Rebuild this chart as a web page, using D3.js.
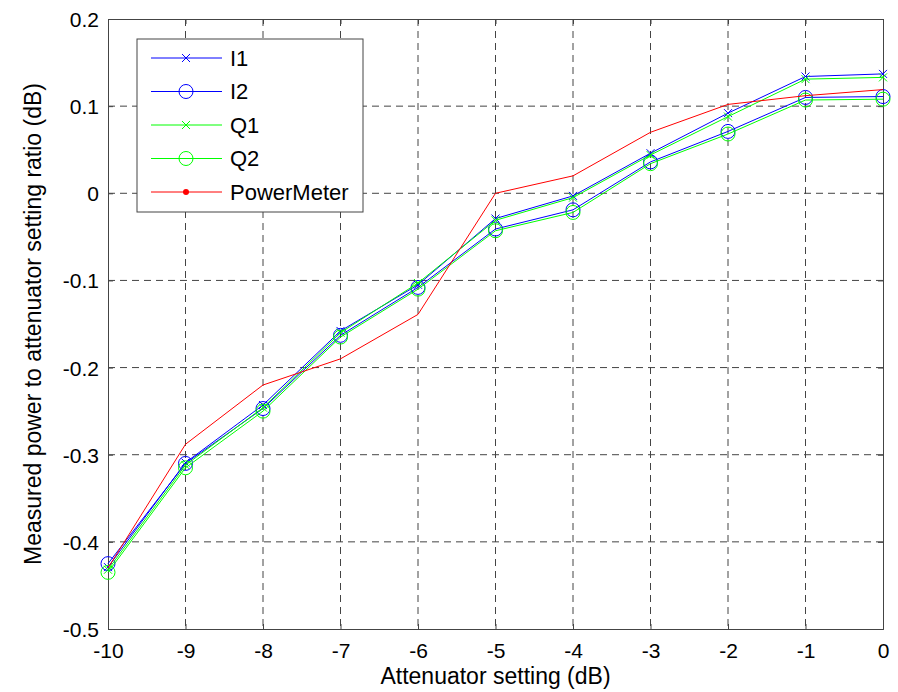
<!DOCTYPE html>
<html>
<head>
<meta charset="utf-8">
<script src="https://cdn.jsdelivr.net/npm/d3@7"></script>
<style>
  body { margin: 0; background: #fff; }
  text { font-family: "Liberation Sans", Arial, sans-serif; fill: #000; }
</style>
</head>
<body>
<script>
// attenuator settings and measured ratios (dB)
var settings = [-10, -9, -8, -7, -6, -5, -4, -3, -2, -1, 0];
var i1 = [-0.429, -0.309, -0.243, -0.158, -0.105, -0.029, -0.003, 0.046, 0.092, 0.134, 0.137];
var i2 = [-0.425, -0.310, -0.247, -0.163, -0.108, -0.041, -0.019, 0.036, 0.071, 0.110, 0.111];
var q1 = [-0.432, -0.312, -0.246, -0.160, -0.103, -0.031, -0.005, 0.044, 0.088, 0.131, 0.133];
var q2 = [-0.435, -0.315, -0.250, -0.165, -0.110, -0.043, -0.022, 0.034, 0.068, 0.107, 0.108];
var powerMeter = [-0.430, -0.288, -0.220, -0.190, -0.139, 0.000, 0.020, 0.070, 0.102, 0.112, 0.119];

var xTicks = [-10, -9, -8, -7, -6, -5, -4, -3, -2, -1, 0];
var yTicks = [0.2, 0.1, 0, -0.1, -0.2, -0.3, -0.4, -0.5];

var series = [
  {name: "I1", values: i1, color: "#0000ff", marker: "x"},
  {name: "I2", values: i2, color: "#0000ff", marker: "o"},
  {name: "Q1", values: q1, color: "#00ff00", marker: "x"},
  {name: "Q2", values: q2, color: "#00ff00", marker: "o"},
  {name: "PowerMeter", values: powerMeter, color: "#ff0000", marker: "."}
];

var width = 898,
    height = 692,
    margin = {top: 19, right: 15, bottom: 63, left: 108};

var x = d3.scaleLinear()
    .domain([-10, 0])
    .range([margin.left, width - margin.right]);

var y = d3.scaleLinear()
    .domain([-0.5, 0.2])
    .range([height - margin.bottom, margin.top]);

var svg = d3.select("body").append("svg")
    .attr("width", width)
    .attr("height", height);

// grid
svg.append("g").selectAll("line")
    .data(xTicks.slice(1, -1))
  .enter().append("line")
    .attr("x1", function(d) { return x(d); })
    .attr("x2", function(d) { return x(d); })
    .attr("y1", y(0.2))
    .attr("y2", y(-0.5))
    .attr("stroke", "#444")
    .attr("stroke-dasharray", "7,5");

svg.append("g").selectAll("line")
    .data(yTicks.slice(1, -1))
  .enter().append("line")
    .attr("x1", x(-10))
    .attr("x2", x(0))
    .attr("y1", function(d) { return y(d); })
    .attr("y2", function(d) { return y(d); })
    .attr("stroke", "#444")
    .attr("stroke-dasharray", "7,5");

// axes (ticks pointing inward, like matlab), plain hyphen for minus
var fmtX = function(d) { return String(d); };
var fmtY = function(d) { return d === 0 ? "0" : d.toFixed(1); };

var xAxis = svg.append("g")
    .attr("transform", "translate(0," + y(-0.5) + ")")
    .call(d3.axisBottom(x).tickValues(xTicks).tickFormat(fmtX).tickSize(-5).tickPadding(14));

var yAxis = svg.append("g")
    .attr("transform", "translate(" + x(-10) + ",0)")
    .call(d3.axisLeft(y).tickValues(yTicks).tickFormat(fmtY).tickSize(-5).tickPadding(9));

svg.append("g")
    .attr("transform", "translate(0," + y(0.2) + ")")
    .call(d3.axisTop(x).tickValues(xTicks).tickSize(-5).tickFormat(""));

svg.append("g")
    .attr("transform", "translate(" + x(0) + ",0)")
    .call(d3.axisRight(y).tickValues(yTicks).tickSize(-5).tickFormat(""));

svg.selectAll(".domain").attr("stroke", "#444");
svg.selectAll(".tick line").attr("stroke", "#444");
svg.selectAll(".tick text").style("font-size", "21px").style("font-family", "'Liberation Sans', Arial, sans-serif").attr("fill", "#000");
yAxis.selectAll(".tick text").attr("dy", "0.36em");

// lines
var line = d3.line()
    .x(function(d, i) { return x(settings[i]); })
    .y(function(d) { return y(d); });

function drawMarker(g, type, color) {
  if (type === "x") {
    g.append("path")
        .attr("d", "M-4,-4L4,4M-4,4L4,-4")
        .attr("stroke", color)
        .attr("fill", "none");
  } else if (type === "o") {
    g.append("circle")
        .attr("r", 7)
        .attr("stroke", color)
        .attr("fill", "none");
  } else {
    g.append("circle")
        .attr("r", 2)
        .attr("fill", color);
  }
}

series.forEach(function(s) {
  svg.append("path")
      .datum(s.values)
      .attr("d", line)
      .attr("fill", "none")
      .attr("stroke", s.color)
      .attr("stroke-width", 1);

  if (s.marker !== ".") {
    s.values.forEach(function(v, i) {
      var g = svg.append("g")
          .attr("transform", "translate(" + x(settings[i]) + "," + y(v) + ")");
      drawMarker(g, s.marker, s.color);
    });
  }
});

// legend
var legend = svg.append("g").attr("transform", "translate(137,39)");

legend.append("rect")
    .attr("width", 226)
    .attr("height", 173)
    .attr("fill", "#fff")
    .attr("stroke", "#444");

series.forEach(function(s, i) {
  var row = legend.append("g").attr("transform", "translate(0," + (19 + i * 33.5) + ")");
  row.append("line")
      .attr("x1", 14)
      .attr("x2", 85)
      .attr("stroke", s.color);
  var m = row.append("g").attr("transform", "translate(49,0)");
  drawMarker(m, s.marker, s.color);
  if (s.marker === ".") m.select("circle").attr("r", 3);
  row.append("text")
      .attr("x", 93)
      .attr("dy", "0.36em")
      .style("font-size", "22px")
      .text(s.name);
});

// axis titles
svg.append("text")
    .attr("x", (x(-10) + x(0)) / 2)
    .attr("y", 684)
    .attr("text-anchor", "middle")
    .style("font-size", "23px")
    .text("Attenuator setting (dB)");

svg.append("text")
    .attr("transform", "translate(41," + (y(0.2) + y(-0.5)) / 2 + ") rotate(-90)")
    .attr("text-anchor", "middle")
    .style("font-size", "23px")
    .text("Measured power to attenuator setting ratio (dB)");
</script>
</body>
</html>
